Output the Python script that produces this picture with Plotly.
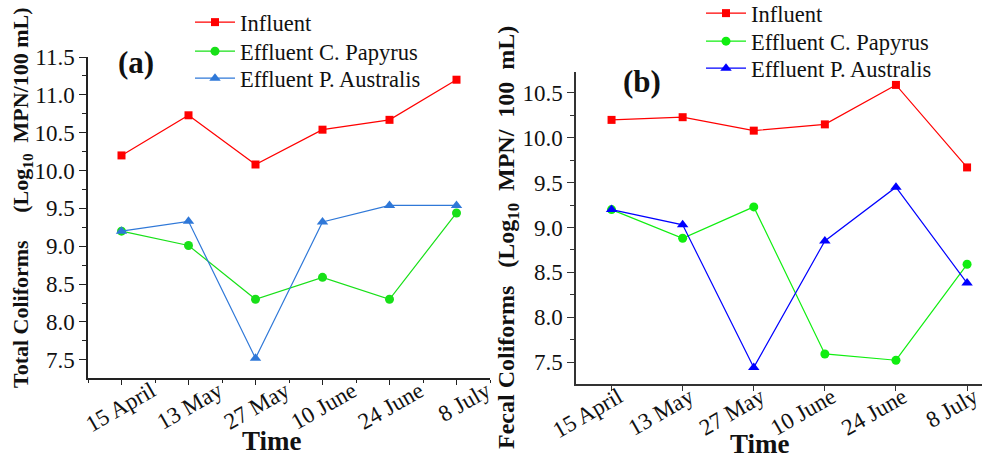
import plotly.graph_objects as go

W, H = 982, 460

dates = ["15 April", "13 May", "27 May", "10 June", "24 June", "8 July"]

# Panel (a): Total coliforms
tc_influent = [10.20, 10.73, 10.08, 10.54, 10.67, 11.20]
tc_papyrus = [9.20, 9.01, 8.30, 8.59, 8.30, 9.44]
tc_australis = [9.20, 9.33, 7.52, 9.32, 9.54, 9.54]

# Panel (b): Fecal coliforms
fc_influent = [10.20, 10.23, 10.08, 10.15, 10.59, 9.67]
fc_papyrus = [9.20, 8.88, 9.23, 7.59, 7.52, 8.59]
fc_australis = [9.20, 9.03, 7.44, 8.85, 9.45, 8.38]

names = ["Influent", "Effluent C. Papyrus", "Effluent P. Australis"]
y_ticks = [7.5, 8.0, 8.5, 9.0, 9.5, 10.0, 10.5, 11.0, 11.5]

FONT = "Liberation Serif, Times New Roman, serif"
xi = list(range(len(dates)))

def px(x):
    return x / W

def py(y):
    return 1 - y / H

fig = go.Figure()

colors_a = ["#ff0000", "#18e018", "#2f78d8"]
colors_b = ["#ff0000", "#10ee10", "#0000ff"]
symbols = ["square", "circle", "triangle-up"]
sizes = [8, 9, 10]

# one legend per entry so the row spacing can match the reference
leg_a_rows = [1, 30, 57]
leg_b_rows = [-8, 20, 47]
legends = {}
k = 1
for series, cols, xax, yax, rows, lx in [
        ([tc_influent, tc_papyrus, tc_australis], colors_a, "x", "y", leg_a_rows, 190),
        ([fc_influent, fc_papyrus, fc_australis], colors_b, "x2", "y2", leg_b_rows, 701)]:
    for vals, name, c, s, sz, ry in zip(series, names, cols, symbols, sizes, rows):
        lname = "legend" if k == 1 else f"legend{k}"
        fig.add_trace(go.Scatter(x=xi, y=vals, name=name, mode="lines+markers",
                                 line=dict(color=c, width=1.2),
                                 marker=dict(symbol=s, size=sz, color=c),
                                 xaxis=xax, yaxis=yax, legend=lname))
        legends[lname] = dict(x=px(lx), y=py(ry), xanchor="left", yanchor="top",
                              font=dict(size=22.5, family=FONT, color="#111"),
                              bgcolor="rgba(0,0,0,0)", itemwidth=40)
        k += 1

axis_common = dict(showgrid=False, zeroline=False, showline=True, ticks="outside",
                   mirror=False, automargin=False, ticklabeloverflow="allow")

fig.update_layout(
    width=W, height=H,
    margin=dict(l=0, r=0, t=0, b=0, autoexpand=False),
    paper_bgcolor="white", plot_bgcolor="white",
    font=dict(family=FONT, color="#111111"),
    xaxis=dict(domain=[px(88), px(490)], range=[-0.5, 5.5], anchor="y",
               tickvals=xi, ticktext=dates, tickangle=-30,
               ticklabelshift=30, ticklabelstandoff=-16,
               tickfont=dict(size=23, family=FONT), linecolor="#222", linewidth=1.5,
               ticklen=5, tickwidth=1.2, tickcolor="#222",
               minor=dict(dtick=0.5, tick0=-0.5, ticklen=3, tickcolor="#222", ticks="outside"),
               **axis_common),
    yaxis=dict(domain=[py(378), py(57)], range=[7.26, 11.5], anchor="x",
               tickvals=y_ticks, ticktext=[f"{v:.1f}" for v in y_ticks],
               tickfont=dict(size=23, family=FONT), linecolor="#222", linewidth=1.5,
               ticklen=7, tickwidth=1.2, tickcolor="#222",
               minor=dict(dtick=0.25, tick0=7.25, ticklen=4, tickcolor="#222", ticks="outside"),
               **axis_common),
    xaxis2=dict(domain=[px(576), 1.0], range=[-0.5, 5.21], anchor="y2",
                tickvals=xi, ticktext=dates, tickangle=-30,
                ticklabelshift=7, ticklabelstandoff=-16,
                tickfont=dict(size=23, family=FONT), linecolor="#333", linewidth=1.5,
                ticklen=5, tickwidth=1.2, tickcolor="#333",
                **axis_common),
    yaxis2=dict(domain=[py(384), py(72)], range=[7.255, 10.734], anchor="x2",
                tickvals=y_ticks[:7], ticktext=[f"{v:.1f}" for v in y_ticks[:7]],
                tickfont=dict(size=23, family=FONT), linecolor="#333", linewidth=1.5,
                ticklen=7, tickwidth=1.2, tickcolor="#333",
                minor=dict(dtick=0.25, tick0=7.25, ticklen=4, tickcolor="#333", ticks="outside"),
                **axis_common),
    showlegend=True,
    **legends,
)

nb = "\u00a0"
annotations = [
    dict(text="<b>(a)</b>", x=px(136), y=py(63), font=dict(size=31)),
    dict(text="<b>(b)</b>", x=px(642), y=py(82), font=dict(size=31)),
    dict(text="<b>Time</b>", x=px(272), y=py(441), font=dict(size=27)),
    dict(text="<b>Time</b>", x=px(760), y=py(444), font=dict(size=27)),
    dict(text=f"<b>Total Coliforms{nb*5}(Log<sub>10</sub>{nb*2}MPN/100 mL)</b>",
         x=px(22), y=py(198), textangle=-90, font=dict(size=22)),
    dict(text=f"<b>Fecal Coliforms{nb*3}(Log<sub>10</sub>{nb*2}MPN/{nb*2}100{nb*2}mL)</b>",
         x=px(508), y=py(238), textangle=-90, font=dict(size=24)),
]
for a in annotations:
    a.update(xref="paper", yref="paper", showarrow=False, xanchor="center", yanchor="middle")
    a["font"].update(family=FONT, color="#111")
fig.update_layout(annotations=annotations)

fig.write_html("out.html")
